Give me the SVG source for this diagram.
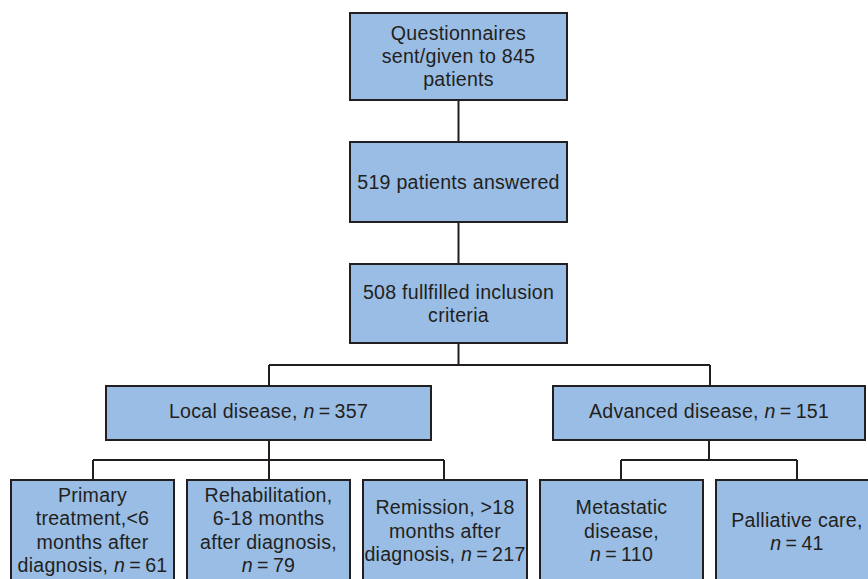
<svg xmlns="http://www.w3.org/2000/svg" width="868" height="579" viewBox="0 0 868 579">
<style>
.box{fill:#99bde4;stroke:#231f20;stroke-width:2}
.ln{fill:none;stroke:#231f20;stroke-width:2}
text{font-family:"Liberation Sans",Arial,sans-serif;font-size:19.6px;fill:#231f20;text-anchor:middle;letter-spacing:0.25px}
.i{font-style:italic}
</style>
<rect width="868" height="579" fill="#ffffff"/>
<g id="connectors">
<path class="ln" d="M458.5 100V142M458.5 222V264M458.5 343V365M269 365H710M269 365V386M710 365V386"/>
<path class="ln" d="M269 440V460M93 460H444M93 460V480M269 460V480M444 460V480"/>
<path class="ln" d="M709 440V460M621 460H797M621 460V480M797 460V480"/>
</g>
<g id="n1"><rect class="box" x="350" y="13" width="217" height="87"/>
<text x="458.5" y="40">Questionnaires</text><text x="458.5" y="63">sent/given to 845</text><text x="458.5" y="86">patients</text></g>
<g id="n2"><rect class="box" x="350" y="142" width="217" height="80"/>
<text x="458.5" y="189">519 patients answered</text></g>
<g id="n3"><rect class="box" x="350" y="264" width="217" height="79"/>
<text x="458.5" y="299">508 fullfilled inclusion</text><text x="458.5" y="322">criteria</text></g>
<g id="n4"><rect class="box" x="106" y="386" width="325" height="54"/>
<text x="268.5" y="418">Local disease, <tspan class="i">n</tspan>&#8201;=&#8201;357</text></g>
<g id="n5"><rect class="box" x="553" y="386" width="312" height="54"/>
<text x="709" y="418">Advanced disease, <tspan class="i">n</tspan>&#8201;=&#8201;151</text></g>
<g id="n6"><rect class="box" x="11" y="480" width="163" height="110"/>
<text x="92.5" y="502">Primary</text><text x="92.5" y="525">treatment,&lt;6</text><text x="92.5" y="549">months after</text><text x="92.5" y="572">diagnosis, <tspan class="i">n</tspan>&#8201;=&#8201;61</text></g>
<g id="n7"><rect class="box" x="187" y="480" width="163" height="110"/>
<text x="268.5" y="502">Rehabilitation,</text><text x="268.5" y="525">6-18 months</text><text x="268.5" y="549">after diagnosis,</text><text x="268.5" y="572"><tspan class="i">n</tspan>&#8201;=&#8201;79</text></g>
<g id="n8"><rect class="box" x="363" y="480" width="164" height="110"/>
<text x="445" y="514">Remission, &gt;18</text><text x="445" y="538">months after</text><text x="445" y="561">diagnosis, <tspan class="i">n</tspan>&#8201;=&#8201;217</text></g>
<g id="n9"><rect class="box" x="540" y="480" width="163" height="110"/>
<text x="621.5" y="514">Metastatic</text><text x="621.5" y="538">disease,</text><text x="621.5" y="561"><tspan class="i">n</tspan>&#8201;=&#8201;110</text></g>
<g id="n10"><rect class="box" x="716" y="480" width="163" height="110"/>
<text x="797" y="527">Palliative care,</text><text x="797" y="550"><tspan class="i">n</tspan>&#8201;=&#8201;41</text></g>
</svg>
